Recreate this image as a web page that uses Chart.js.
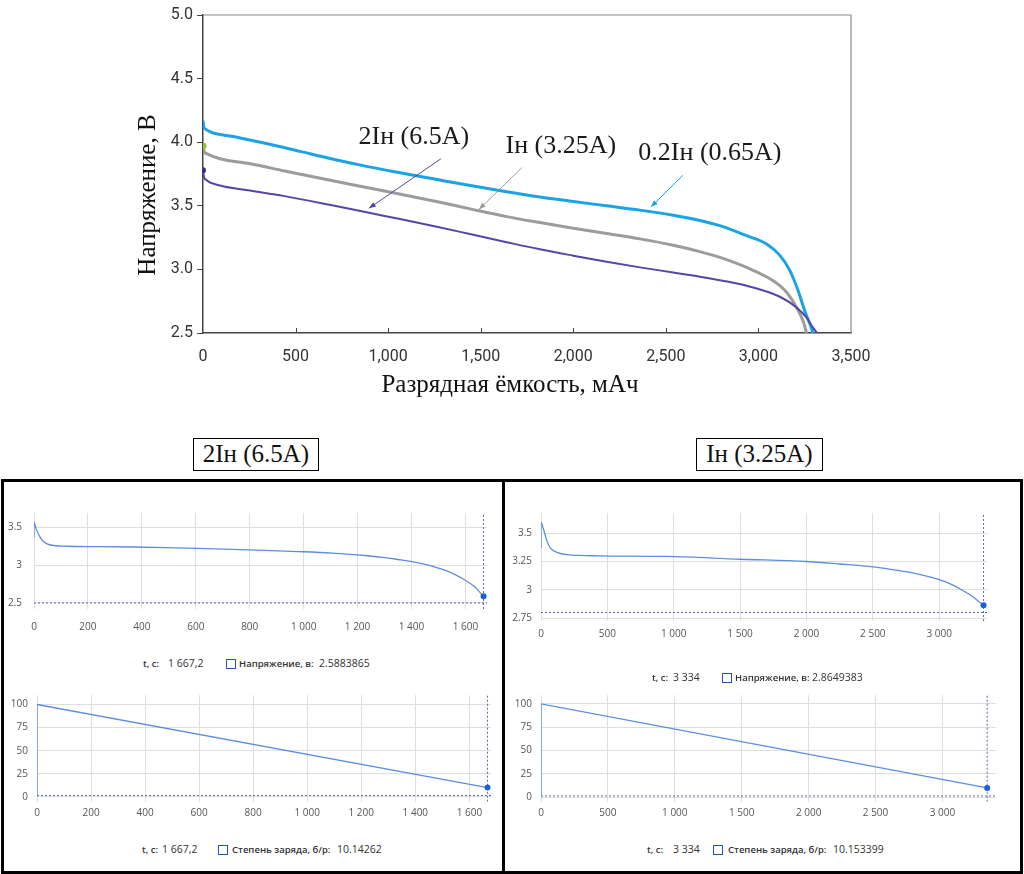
<!DOCTYPE html>
<html><head><meta charset="utf-8">
<script src="https://cdn.jsdelivr.net/npm/chart.js@4/dist/chart.umd.min.js"></script>
<style>
html,body{margin:0;padding:0;background:#fff;width:1024px;height:874px;overflow:hidden;position:relative}
canvas{position:absolute;display:block}
.ttl{position:absolute;border:1.5px solid #000;font-family:'Liberation Serif','Times New Roman',serif;font-size:25px;text-align:center;line-height:30px;box-sizing:border-box;color:#111;background:#fff}
.panel{position:absolute;border:3px solid #000;box-sizing:border-box}
.lg{position:absolute;font-family:"Open Sans",sans-serif;color:#333;white-space:nowrap;line-height:16px;height:16px}
.lb{font-weight:600;font-size:9.5px}
.lv{font-size:10.5px}
.sq{position:absolute;width:10px;height:10px;border:1.5px solid #2454b8;box-sizing:border-box}
</style></head><body>

<div class="panel" style="left:1px;top:479px;width:504px;height:395px"></div>
<div class="panel" style="left:502px;top:479px;width:521px;height:395px"></div>
<div class="ttl" style="left:193px;top:438px;width:126px;height:33px;font-family:'Liberation Serif',serif">2Iн (6.5A)</div>
<div class="ttl" style="left:696px;top:438px;width:127px;height:33px;font-family:'Liberation Serif',serif">Iн (3.25A)</div>

<canvas id="main" width="1024" height="400" style="left:0;top:0"></canvas>
<canvas id="tl" width="503" height="140" style="left:0;top:495px"></canvas>
<canvas id="tr" width="519" height="150" style="left:503px;top:495px"></canvas>
<canvas id="bl" width="503" height="150" style="left:0;top:680px"></canvas>
<canvas id="br" width="519" height="150" style="left:503px;top:680px"></canvas>

<!-- legends -->
<div class="lg lb" style="left:143px;top:656px">t, c:</div>
<div class="lg lv" style="left:168px;top:655px">1 667,2</div>
<div class="sq" style="left:226px;top:659px"></div>
<div class="lg lb" style="left:239px;top:656px">Напряжение, в:</div>
<div class="lg lv" style="left:319px;top:655px">2.5883865</div>

<div class="lg lb" style="left:142px;top:842px">t, c:</div>
<div class="lg lv" style="left:162px;top:841px">1 667,2</div>
<div class="sq" style="left:218px;top:845px"></div>
<div class="lg lb" style="left:232px;top:842px">Степень заряда, б/р:</div>
<div class="lg lv" style="left:337px;top:841px">10.14262</div>

<div class="lg lb" style="left:652px;top:670px">t, c:</div>
<div class="lg lv" style="left:673px;top:669px">3 334</div>
<div class="sq" style="left:722px;top:673px"></div>
<div class="lg lb" style="left:735px;top:670px">Напряжение, в:</div>
<div class="lg lv" style="left:812px;top:669px">2.8649383</div>

<div class="lg lb" style="left:647px;top:842px">t, c:</div>
<div class="lg lv" style="left:673px;top:841px">3 334</div>
<div class="sq" style="left:713px;top:845px"></div>
<div class="lg lb" style="left:728px;top:842px">Степень заряда, б/р:</div>
<div class="lg lv" style="left:833px;top:841px">10.153399</div>

<script>
// ===== Main chart data: discharge capacity (mAh) vs voltage (V) =====
const capBlue  = [0, 4, 11, 164, 344, 524, 704, 884, 1064, 1244, 1460, 1640, 1820, 2000, 2180, 2360, 2540, 2684, 2800, 2936, 3044, 3116, 3170, 3215, 3251, 3278, 3295];
const voltBlue = [4.17, 4.12, 4.105, 4.045, 3.99, 3.928, 3.866, 3.81, 3.76, 3.712, 3.655, 3.61, 3.569, 3.534, 3.50, 3.466, 3.426, 3.385, 3.34, 3.265, 3.20, 3.11, 2.99, 2.83, 2.67, 2.57, 2.50];
const capGray  = [0, 5, 20, 92, 254, 434, 614, 794, 974, 1154, 1280, 1460, 1640, 1820, 2000, 2180, 2360, 2540, 2684, 2800, 2936, 3080, 3152, 3206, 3242, 3260];
const voltGray = [3.97, 3.93, 3.91, 3.87, 3.83, 3.776, 3.722, 3.67, 3.618, 3.566, 3.528, 3.47, 3.415, 3.368, 3.324, 3.282, 3.24, 3.19, 3.14, 3.09, 3.015, 2.91, 2.82, 2.70, 2.59, 2.50];
const capPurple  = [0, 5, 20, 92, 254, 434, 704, 974, 1244, 1460, 1640, 1820, 2000, 2180, 2360, 2540, 2684, 2800, 2936, 3116, 3206, 3260, 3296, 3317];
const voltPurple = [3.78, 3.73, 3.70, 3.66, 3.62, 3.578, 3.502, 3.422, 3.342, 3.272, 3.214, 3.158, 3.108, 3.06, 3.016, 2.976, 2.943, 2.913, 2.872, 2.785, 2.70, 2.62, 2.54, 2.50];
const mainXTicks = [0, 500, 1000, 1500, 2000, 2500, 3000, 3500];
const mainYTicks = [2.5, 3.0, 3.5, 4.0, 4.5, 5.0];
const seriesNames = ['2Iн (6.5A)', 'Iн (3.25A)', '0.2Iн (0.65A)'];
// annotation anchors (data coords): label centre, arrow start, arrow tip
const annLabelCap  = [1139, 1933, 2738];
const annLabelVolt = [4.04, 3.97, 3.91];
const annFromCap   = [1285, 1722, 2592];
const annFromVolt  = [3.87, 3.80, 3.74];
const annToCap     = [896, 1490, 2419];
const annToVolt    = [3.48, 3.47, 3.49];

// ===== Panel 2Iн (6.5A) =====
const tVolt2I = [0, 0, 9, 21, 33, 58, 119, 242, 365, 488, 611, 734, 857, 980, 1103, 1227, 1300, 1350, 1411, 1472, 1534, 1595, 1632, 1667.2];
const volt2I  = [3.37, 3.57, 3.47, 3.38, 3.32, 3.27, 3.25, 3.245, 3.24, 3.232, 3.222, 3.21, 3.196, 3.18, 3.16, 3.128, 3.10, 3.075, 3.04, 2.99, 2.92, 2.81, 2.72, 2.588];
const tSoc2I  = [0, 0, 1667.2];
const soc2I   = [0, 100, 10.14262];
const cursor2I = 1667.2;
const cutoff2I = 2.5;
const ticksT2I = [0, 200, 400, 600, 800, 1000, 1200, 1400, 1600];
const ticksV2I = [2.5, 3, 3.5];

// ===== Panel Iн (3.25A) =====
const tVoltI = [0, 0, 20, 45, 70, 120, 196, 446, 948, 1500, 2000, 2250, 2500, 2625, 2750, 2875, 3000, 3080, 3155, 3210, 3256, 3300, 3334];
const voltI  = [3.37, 3.595, 3.53, 3.43, 3.37, 3.33, 3.31, 3.30, 3.295, 3.27, 3.25, 3.228, 3.203, 3.183, 3.16, 3.13, 3.09, 3.055, 3.01, 2.972, 2.936, 2.895, 2.865];
const tSocI  = [0, 0, 3334];
const socI   = [0, 100, 10.153399];
const cursorI = 3334;
const cutoffI = 2.8;
const ticksTI = [0, 500, 1000, 1500, 2000, 2500, 3000];
const ticksVI = [2.75, 3, 3.25, 3.5];

const ticksSoc = [0, 25, 50, 75, 100];
const socFloor = 1.5;

const zip = (xs, ys) => xs.map((x, i) => ({x, y: ys[i]}));
const fmtRu = v => v >= 1000 ? Math.floor(v / 1000) + ' ' + String(v % 1000).padStart(3, '0') : String(v);

// ----- main chart plugins -----
const framePlugin = {
  id: 'frame',
  afterDraw(chart) {
    const {ctx, chartArea: a} = chart;
    ctx.save();
    ctx.strokeStyle = '#8a8a8a'; ctx.lineWidth = 1.2;
    ctx.beginPath();
    ctx.moveTo(a.left, a.top); ctx.lineTo(a.right, a.top); ctx.lineTo(a.right, a.bottom);
    ctx.stroke();
    const xs = chart.scales.x;
    ctx.strokeStyle = '#444'; ctx.lineWidth = 1;
    xs.ticks.forEach(t => {
      if (t.value <= xs.min || t.value >= xs.max) return;
      const px = Math.round(xs.getPixelForValue(t.value)) + 0.5;
      ctx.beginPath(); ctx.moveTo(px, a.bottom); ctx.lineTo(px, a.bottom - 5); ctx.stroke();
    });
    ctx.fillStyle = '#111';
    ctx.font = '25px "Liberation Serif", serif';
    ctx.textAlign = 'center'; ctx.textBaseline = 'middle';
    ctx.fillText('Разрядная ёмкость, мАч', a.left + 307, a.bottom + 52);
    ctx.translate(a.left - 55, a.top + 180);
    ctx.rotate(-Math.PI / 2);
    ctx.fillText('Напряжение, В', 0, 0);
    ctx.restore();
  }
};
const annColors = ['#5446a8', '#9c9c9c', '#1ba3e3'];
const annPlugin = {
  id: 'ann',
  afterDatasetsDraw(chart) {
    const {ctx, scales: {x, y}} = chart;
    ctx.save();
    seriesNames.forEach((name, i) => {
      ctx.fillStyle = '#1a1a1a';
      ctx.font = '26px "Liberation Serif", serif';
      ctx.textAlign = 'center'; ctx.textBaseline = 'middle';
      ctx.fillText(name, x.getPixelForValue(annLabelCap[i]), y.getPixelForValue(annLabelVolt[i]));
      const x1 = x.getPixelForValue(annFromCap[i]), y1 = y.getPixelForValue(annFromVolt[i]);
      const x2 = x.getPixelForValue(annToCap[i]), y2 = y.getPixelForValue(annToVolt[i]);
      ctx.strokeStyle = annColors[i]; ctx.fillStyle = annColors[i]; ctx.lineWidth = 1;
      ctx.beginPath(); ctx.moveTo(x1, y1); ctx.lineTo(x2, y2); ctx.stroke();
      const ang = Math.atan2(y2 - y1, x2 - x1), L = 7, W = 2.6;
      ctx.beginPath();
      ctx.moveTo(x2, y2);
      ctx.lineTo(x2 - L * Math.cos(ang) + W * Math.sin(ang), y2 - L * Math.sin(ang) - W * Math.cos(ang));
      ctx.lineTo(x2 - L * Math.cos(ang) - W * Math.sin(ang), y2 - L * Math.sin(ang) + W * Math.cos(ang));
      ctx.closePath(); ctx.fill();
    });
    ctx.restore();
  }
};

const tickFontMain = {family: 'Roboto, "Liberation Sans", sans-serif', size: 16};
new Chart(document.getElementById('main'), {
  type: 'line',
  data: {datasets: [
    {label: seriesNames[0], data: zip(capPurple, voltPurple), borderColor: '#5446a8', borderWidth: 2,
     pointRadius: ctx => ctx.dataIndex === 0 ? 3 : 0, pointBackgroundColor: '#3a2a90', pointBorderWidth: 0, cubicInterpolationMode: 'monotone'},
    {label: seriesNames[2], data: zip(capBlue, voltBlue), borderColor: '#1ba3e3', borderWidth: 3,
     pointRadius: 0, cubicInterpolationMode: 'monotone'},
    {label: seriesNames[1], data: zip(capGray, voltGray), borderColor: '#9c9c9c', borderWidth: 3,
     pointRadius: ctx => ctx.dataIndex === 0 ? 3.5 : 0, pointBackgroundColor: '#8cc63f', pointBorderWidth: 0, cubicInterpolationMode: 'monotone'}
  ]},
  options: {
    responsive: false, animation: false, events: [],
    layout: {padding: {left: 150, top: 15, right: 173, bottom: 0}},
    plugins: {legend: {display: false}, tooltip: {enabled: false}},
    scales: {
      x: {type: 'linear', min: 0, max: 3500,
          afterBuildTicks(a) { a.ticks = mainXTicks.map(v => ({value: v})); },
          ticks: {callback: v => v.toLocaleString('en-US'), font: tickFontMain, color: '#333', padding: 6, maxRotation: 0, autoSkip: false},
          grid: {display: false}, border: {color: '#444', width: 1.5},
          afterFit(a) { a.height = 67; }},
      y: {type: 'linear', min: 2.5, max: 5,
          afterBuildTicks(a) { a.ticks = mainYTicks.map(v => ({value: v})); },
          ticks: {callback: v => v.toFixed(1), font: tickFontMain, color: '#333', padding: 4, autoSkip: false},
          grid: {drawOnChartArea: false, drawTicks: true, tickLength: 6, color: '#444'},
          border: {color: '#444', width: 1.5},
          afterFit(a) { a.width = 53; }}
    }
  },
  plugins: [framePlugin, annPlugin]
});

// ----- small panel charts -----
const smallFont = {family: '"Open Sans", "Noto Sans", sans-serif', size: 10};
function panelChart(id, o) {
  const last = o.line.length - 1;
  return new Chart(document.getElementById(id), {
    type: 'line',
    data: {datasets: [
      {data: o.line, borderColor: '#5b8ee0', borderWidth: 1.3,
       pointRadius: ctx => ctx.dataIndex === last ? 3 : 0, pointBackgroundColor: '#1f5fd6', pointBorderWidth: 0,
       cubicInterpolationMode: o.smooth ? 'monotone' : 'default', tension: 0},
      {data: [{x: o.cursor, y: o.ymin}, {x: o.cursor, y: o.ymax}], borderColor: '#5a6a9e', borderWidth: 1, borderDash: [2, 2], pointRadius: 0},
      {data: [{x: 0, y: o.floor}, {x: o.xmax, y: o.floor}], borderColor: '#5a6a9e', borderWidth: 1, borderDash: [2, 2], pointRadius: 0}
    ]},
    options: {
      responsive: false, animation: false, events: [],
      layout: {padding: o.pad},
      plugins: {legend: {display: false}, tooltip: {enabled: false}},
      scales: {
        x: {type: 'linear', min: 0, max: o.xmax,
            afterBuildTicks(a) { a.ticks = o.xticks.map(v => ({value: v})); },
            ticks: {callback: fmtRu, font: smallFont, color: '#555', padding: o.xpad, maxRotation: 0, autoSkip: false},
            grid: {color: '#dedede', drawTicks: false}, border: {display: false},
            afterFit(a) { a.height = o.xh; }},
        y: {type: 'linear', min: o.ymin, max: o.ymax,
            afterBuildTicks(a) { a.ticks = o.yticks.map(v => ({value: v})); },
            ticks: {callback: v => String(v), font: smallFont, color: '#555', padding: o.ypad, autoSkip: false},
            grid: {color: '#dedede', drawTicks: false}, border: {display: false},
            afterFit(a) { a.width = o.yw; }}
      }
    }
  });
}

panelChart('tl', {line: zip(tVolt2I, volt2I), smooth: true, cursor: cursor2I, floor: cutoff2I, xmax: 1680, ymin: 2.42, ymax: 3.69,
  xticks: ticksT2I, yticks: ticksV2I, pad: {left: 0, top: 12, right: 16, bottom: 0}, yw: 34, xh: 26, xpad: 12, ypad: 12});
panelChart('tr', {line: zip(tVoltI, voltI), smooth: true, cursor: cursorI, floor: cutoffI, xmax: 3360, ymin: 2.725, ymax: 3.678,
  xticks: ticksTI, yticks: ticksVI, pad: {left: 0, top: 18, right: 35, bottom: 0}, yw: 38, xh: 24, xpad: 7, ypad: 9});
panelChart('bl', {line: zip(tSoc2I, soc2I), smooth: false, cursor: cursor2I, floor: socFloor, xmax: 1680, ymin: -5.2, ymax: 110.3,
  xticks: ticksT2I, yticks: ticksSoc, pad: {left: 0, top: 10, right: 12, bottom: 0}, yw: 37, xh: 28.3, xpad: 5, ypad: 9});
panelChart('br', {line: zip(tSocI, socI), smooth: false, cursor: cursorI, floor: socFloor, xmax: 3400, ymin: -4.6, ymax: 109.4,
  xticks: ticksTI, yticks: ticksSoc, pad: {left: 0, top: 12.7, right: 26, bottom: 0}, yw: 38, xh: 28.3, xpad: 5, ypad: 9});
</script>
</body></html>
